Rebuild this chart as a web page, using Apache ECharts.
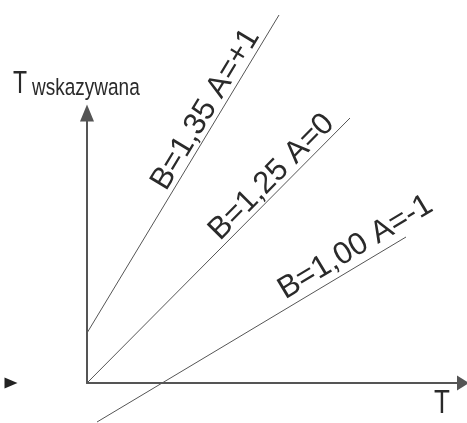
<!DOCTYPE html>
<html lang="pl">
<head>
    <meta charset="UTF-8">
    <title>charakterystyka_wskazan</title>
    <script src="https://cdn.jsdelivr.net/npm/echarts@6/dist/echarts.min.js"></script>
    <style>
        html, body { margin: 0; padding: 0; background: #fff; }
    </style>
</head>

<body>
    <div id="mainChart" style="width: 467px; height: 423px;"></div>
    <script>
        // punkty prostych (T, Twskazywana) - jednostki osi
        let line135 = [[0, 50], [192, 368]]
        let line125 = [[0, 0], [263, 265]]
        let line100 = [[10, -39], [319, 146]]
        let lineLabels = ['B=1,35 A=+1', 'B=1,25 A=0', 'B=1,00 A=-1']
        let strayArrow = [[-87, 0], [-76, 0]]

        let lines = [line135, line125, line100]
        let labelPos = [0.68, 0.74, 0.865]   // polozenie napisu wzdluz prostej
        let labelOff = [14, 14, 17]
        let font = 'Liberation Sans'

        let chartsData = {
            animation: false,
            grid: { left: 87, right: 4, top: 113, bottom: 40 },
            xAxis: {
                type: 'value', min: 0, max: 376,
                axisLine: {
                    symbol: ['none', 'triangle'], symbolSize: [15, 12],
                    lineStyle: { color: '#555', width: 2 }
                },
                axisTick: { show: false }, axisLabel: { show: false }, splitLine: { show: false }
            },
            yAxis: {
                type: 'value', min: 0, max: 270,
                axisLine: {
                    symbol: ['none', 'triangle'], symbolSize: [14, 17],
                    lineStyle: { color: '#555', width: 2 }
                },
                axisTick: { show: false }, axisLabel: { show: false }, splitLine: { show: false }
            },
            series: lines.map(function (d, i) {
                return {
                    type: 'line', name: lineLabels[i], data: d,
                    showSymbol: false, clip: false,
                    lineStyle: { color: '#555', width: 1 }
                }
            }).concat([{
                type: 'line', data: strayArrow, clip: false,
                symbol: function (v, p) { return p.dataIndex === 1 ? 'triangle' : 'none' },
                symbolSize: [11, 13], symbolRotate: -90,
                itemStyle: { color: '#222' },
                lineStyle: { color: '#222', width: 2 }
            }])
        }

        let charts = echarts.init(document.querySelector('#mainChart'))
        charts.setOption(chartsData)

        let graphics = [
            { type: 'text', x: 13, y: 100, scaleY: 1.33,
              style: { text: 'T', fontFamily: font, fontSize: 23, fill: '#2a2a2a', verticalAlign: 'bottom' } },
            { type: 'text', x: 32, y: 100, scaleY: 1.25,
              style: { text: 'wskazywana', fontFamily: font, fontSize: 19, fill: '#2a2a2a', verticalAlign: 'bottom' } },
            { type: 'text', x: 434, y: 421, scaleY: 1.3,
              style: { text: 'T', fontFamily: font, fontSize: 26, fill: '#2a2a2a', verticalAlign: 'bottom' } }
        ]

        lines.forEach(function (d, i) {
            let p1 = charts.convertToPixel({ gridIndex: 0 }, d[0])
            let p2 = charts.convertToPixel({ gridIndex: 0 }, d[1])
            let dx = p2[0] - p1[0], dy = p2[1] - p1[1]
            let len = Math.sqrt(dx * dx + dy * dy)
            let t = labelPos[i]
            let off = labelOff[i]
            graphics.push({
                type: 'text',
                x: p1[0] + t * dx + dy / len * off,
                y: p1[1] + t * dy - dx / len * off,
                rotation: -Math.atan2(dy, dx),
                style: {
                    text: lineLabels[i], fontFamily: font, fontSize: 31, fill: '#2a2a2a',
                    align: 'center', verticalAlign: 'middle'
                }
            })
        })

        charts.setOption({ graphic: graphics })
    </script>
</body>

</html>
